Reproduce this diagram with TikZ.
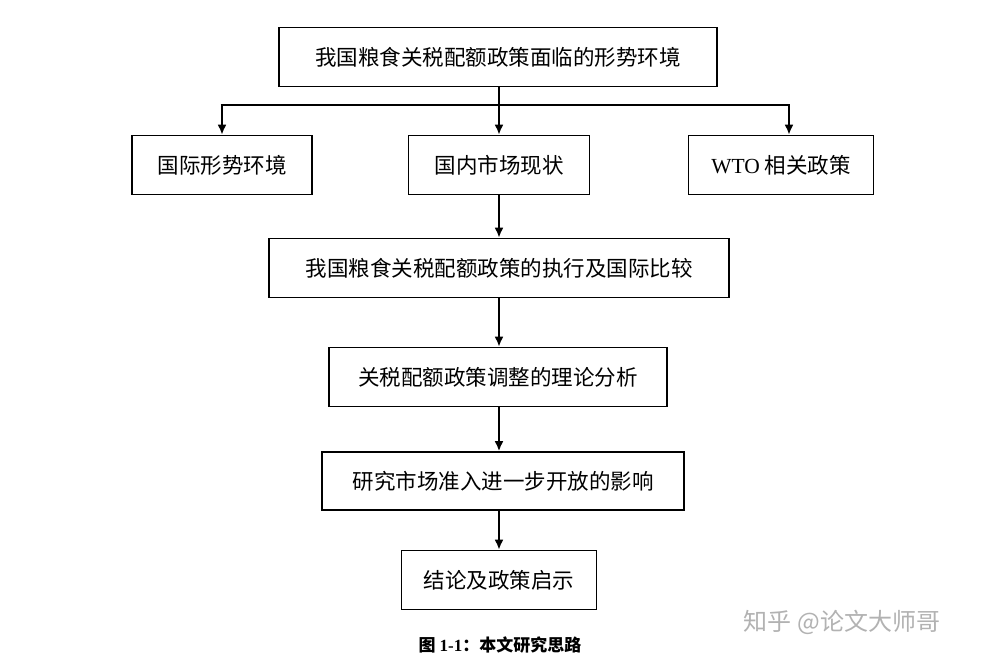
\documentclass[tikz,border=0pt]{standalone}
\usepackage{fontspec}
\setmainfont{Liberation Serif}
\newfontfamily\cjk{Noto Sans CJK SC}
\usetikzlibrary{arrows.meta}
\begin{document}
\begin{tikzpicture}[x=1pt,y=-1pt,
  box/.style={draw,line width=1.6pt,minimum height=59pt,font=\cjk\fontsize{21.5}{26}\selectfont,inner sep=0pt},
  arr/.style={line width=2.6pt,-{Latex[length=10pt,width=9pt]}}]
\useasboundingbox[fill=white] (0,0) rectangle (985,663);
\node[box,minimum width=438pt] (a) at (498,57) {我国粮食关税配额政策面临的形势环境};
\node[box,minimum width=180pt] (b) at (222,165) {国际形势环境};
\node[box,minimum width=181pt] (c) at (499,165) {国内市场现状};
\node[box,minimum width=185pt] (d) at (781,165) {{\fontspec{Liberation Serif}WTO} 相关政策};
\node[box,minimum width=460pt] (e) at (499,268) {我国粮食关税配额政策的执行及国际比较};
\node[box,minimum width=338pt] (f) at (498,377) {关税配额政策调整的理论分析};
\node[box,minimum width=362pt,minimum height=58pt] (g) at (503,481) {研究市场准入进一步开放的影响};
\node[box,minimum width=195pt] (h) at (499,580) {结论及政策启示};
\coordinate (bus) at (499,105);
\draw[line width=2.6pt] (a.south -| bus) -- (bus);
\draw[arr] (222,105) -- (b.north -| 222,0);
\draw[line width=2.6pt] (220.7,105) -- (790.3,105);
\draw[arr] (bus) -- (c.north);
\draw[arr] (789,105) -- (d.north -| 789,0);
\draw[arr] (c.south) -- (e.north -| c.south);
\draw[arr] (e.south -| 499,0) -- (f.north -| 499,0);
\draw[arr] (f.south -| 499,0) -- (g.north -| 499,0);
\draw[arr] (g.south -| 499,0) -- (h.north -| 499,0);
\node[font=\cjk\bfseries\fontsize{17}{20}\selectfont] (cap) at (500,645) {图 {\fontspec{Liberation Serif}\bfseries 1-1}：本文研究思路};
\node[font=\cjk\fontsize{24}{28}\selectfont,text=black!30] (wm) at (842,622) {知乎 @论文大师哥};
\end{tikzpicture}
\end{document}
